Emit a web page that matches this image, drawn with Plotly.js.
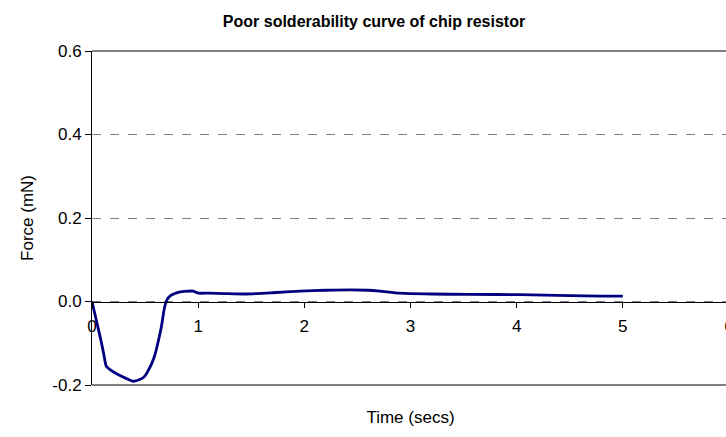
<!DOCTYPE html>
<html>
<head>
<meta charset="utf-8">
<script src="https://cdn.plot.ly/plotly-3.0.1.min.js"></script>
<style>
  html, body { margin: 0; padding: 0; overflow: hidden; background: #ffffff; }
  #chart { width: 770px; height: 437px; }
</style>
</head>
<body>
<div id="chart"></div>
<script>
// Data
const timeSecs = [0, 0.05, 0.09, 0.11, 0.135, 0.18, 0.245, 0.31, 0.387, 0.45, 0.5, 0.53, 0.56, 0.59, 0.62, 0.654, 0.685, 0.71, 0.74, 0.78, 0.81, 0.87, 0.95, 0.98, 1.0, 1.1, 1.25, 1.45, 1.7, 1.96, 2.2, 2.43, 2.6, 2.71, 2.9, 3.2, 3.56, 4.03, 4.5, 4.8, 5.0];
const forceMN = [0, -0.055, -0.1, -0.125, -0.155, -0.165, -0.175, -0.183, -0.191, -0.187, -0.178, -0.165, -0.15, -0.13, -0.1, -0.06, -0.012, 0.006, 0.014, 0.019, 0.022, 0.024, 0.025, 0.022, 0.02, 0.02, 0.019, 0.018, 0.021, 0.025, 0.027, 0.028, 0.027, 0.025, 0.02, 0.018, 0.017, 0.0165, 0.014, 0.013, 0.013];

const xTickVals = [0, 1, 2, 3, 4, 5, 6];
const xTickText = ['0', '1', '2', '3', '4', '5', '6'];
const yTickVals = [-0.2, 0, 0.2, 0.4, 0.6];
const yTickText = ['-0.2', '0.0', '0.2', '0.4', '0.6'];

const chartTitle = 'Poor solderability curve of chip resistor';
const xTitle = 'Time (secs)';
const yTitle = 'Force (mN)';

const trace = {
  x: timeSecs,
  y: forceMN,
  type: 'scatter',
  mode: 'lines',
  line: { color: '#000080', width: 2.8, shape: 'spline', smoothing: 0.6 },
  hoverinfo: 'skip'
};

const fontFamily = 'Liberation Sans, Arial, sans-serif';

const layout = {
  width: 770,
  height: 437,
  margin: { l: 92, r: 41, t: 51, b: 52 },
  paper_bgcolor: '#ffffff',
  plot_bgcolor: '#ffffff',
  showlegend: false,
  font: { family: fontFamily, size: 17, color: '#000000' },
  title: {
    text: '<b>' + chartTitle + '</b>',
    font: { family: fontFamily, size: 16, color: '#000000' },
    x: 374 / 770, xref: 'container', xanchor: 'center',
    y: 1 - 21 / 437, yref: 'container', yanchor: 'middle'
  },
  xaxis: {
    range: [0, 6],
    tickmode: 'array', tickvals: xTickVals, ticktext: xTickText,
    anchor: 'free', position: 0.25,
    showline: true, linecolor: '#000000', linewidth: 1,
    ticks: 'outside', ticklen: 5, tickcolor: '#000000', tickwidth: 1,
    ticklabelstandoff: 4,
    showgrid: false, zeroline: false,
    tickfont: { family: fontFamily, size: 17, color: '#000000' },
    title: { text: xTitle, font: { family: fontFamily, size: 17, color: '#000000' }, standoff: 76 },
    automargin: false
  },
  yaxis: {
    range: [-0.2, 0.6],
    tickmode: 'array', tickvals: yTickVals, ticktext: yTickText,
    showline: true, linecolor: '#000000', linewidth: 1,
    ticks: 'outside', ticklen: 6, tickcolor: '#000000', tickwidth: 1,
    showgrid: true, gridcolor: '#808080', griddash: 'dash', gridwidth: 1,
    zeroline: false,
    tickfont: { family: fontFamily, size: 17, color: '#000000' },
    title: { text: yTitle, font: { family: fontFamily, size: 17, color: '#000000' }, standoff: 14 },
    automargin: false
  },
  shapes: [
    { type: 'line', xref: 'paper', yref: 'paper', x0: 0, x1: 1, y0: 1, y1: 1, line: { color: '#000000', width: 1 } },
    { type: 'line', xref: 'paper', yref: 'paper', x0: 0, x1: 1, y0: 0, y1: 0, line: { color: '#000000', width: 1 } }
  ]
};

Plotly.newPlot('chart', [trace], layout, { displayModeBar: false, staticPlot: true });
</script>
</body>
</html>
